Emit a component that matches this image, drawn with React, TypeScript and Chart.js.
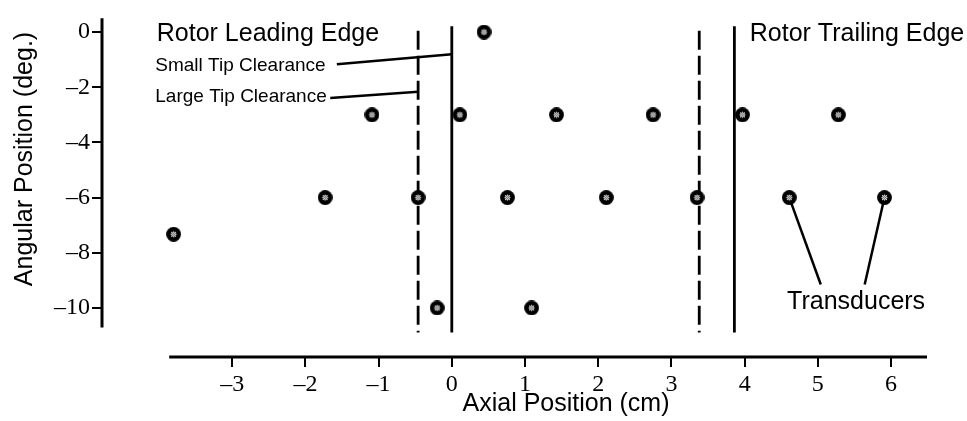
import React, { useEffect, useRef } from 'react';
import { Chart, registerables } from 'chart.js';

Chart.register(...registerables);

// ---- Data ----
const xTickValues = [-3, -2, -1, 0, 1, 2, 3, 4, 5, 6];
const yTickValues = [0, -2, -4, -6, -8, -10];

const transducerX = [0.44, -1.09, 0.11, 1.43, 2.75, 3.97, 5.28, -1.73, -0.46, 0.76, 2.11, 3.35, 4.61, 5.91, -3.8, -0.2, 1.09];
const transducerY = [0, -3, -3, -3, -3, -3, -3, -6, -6, -6, -6, -6, -6, -6, -7.33, -10, -10];

// rotor edges (solid = small tip clearance, dashed = large tip clearance)
const smallTipEdgeX = [0.0, 3.86];
const largeTipEdgeX = [-0.46, 3.38];
const smallTipEdgeTop = 0.21;
const largeTipEdgeTop = 0.05;
const edgeBottom = -10.89;

// leader lines
const smallTipLeaderX = [-1.57, 0.0];
const smallTipLeaderY = [-1.17, -0.8];
const largeTipLeaderX = [-1.66, -0.46];
const largeTipLeaderY = [-2.39, -2.16];
const transducerLeaderAX = [4.61, 5.04];
const transducerLeaderAY = [-6, -9.15];
const transducerLeaderBX = [5.91, 5.64];
const transducerLeaderBY = [-6, -9.15];

// annotation texts and their anchors (data units, left / middle)
const annotationTexts = ['Rotor Leading Edge', 'Rotor Trailing Edge', 'Small Tip Clearance', 'Large Tip Clearance', 'Transducers'];
const annotationX = [-4.03, 4.07, -4.05, -4.05, 4.58];
const annotationY = [-0.07, -0.07, -1.22, -2.35, -9.78];

const xTitle = 'Axial Position (cm)';
const yTitle = 'Angular Position (deg.)';

// axis extents
const xMin = -4.778;
const xMax = 6.491;
const yMin = -11.778;
const yMax = 0.568;
const xAxisStart = -3.86;
const yAxisTop = 0.5;
const yAxisBottom = -10.71;
const xTitleCenter = 1.56;
const yTitleCenter = -4.6;

const pts = (xs: number[], ys: number[]) => xs.map((x, i) => ({ x, y: ys[i] }));

function makeDot(): HTMLCanvasElement {
  const c = document.createElement('canvas');
  c.width = 15;
  c.height = 15;
  const g = c.getContext('2d')!;
  g.fillStyle = '#000';
  g.beginPath();
  g.arc(7.5, 7.5, 7.4, 0, Math.PI * 2);
  g.fill();
  for (let i = 0; i < 15; i++) {
    for (let j = 0; j < 15; j++) {
      const d = Math.hypot(i + 0.5 - 7.5, j + 0.5 - 7.5);
      if (d < 3.1) {
        g.fillStyle = (i + j) % 2 === 0 ? '#d8d8d8' : '#6a6a6a';
        g.fillRect(i, j, 1, 1);
      }
    }
  }
  return c;
}

const fmt = (v: number) => (v < 0 ? '\u2013' + Math.abs(v) : String(v));

export default function App() {
  const ref = useRef<HTMLCanvasElement | null>(null);

  useEffect(() => {
    if (!ref.current) return;
    const dot = makeDot();

    const decor = {
      id: 'decor',
      beforeDatasetsDraw(chart: any) {
        const { ctx, chartArea, scales } = chart;
        const x = scales.x;
        const y = scales.y;
        ctx.save();
        ctx.strokeStyle = '#000';
        ctx.lineWidth = 3;
        ctx.beginPath();
        ctx.moveTo(x.getPixelForValue(xAxisStart), chartArea.bottom);
        ctx.lineTo(chartArea.right, chartArea.bottom);
        ctx.stroke();
        ctx.beginPath();
        ctx.moveTo(chartArea.left, y.getPixelForValue(yAxisTop));
        ctx.lineTo(chartArea.left, y.getPixelForValue(yAxisBottom));
        ctx.stroke();
        ctx.restore();
      },
      afterDatasetsDraw(chart: any) {
        const { ctx, chartArea, scales } = chart;
        const x = scales.x;
        const y = scales.y;
        ctx.save();
        ctx.fillStyle = '#000';
        ctx.textBaseline = 'middle';
        ctx.textAlign = 'left';
        annotationTexts.forEach((t, i) => {
          const size = t.includes('Tip') ? 19 : 25;
          ctx.font = `${size}px "Liberation Sans", Arial, sans-serif`;
          ctx.fillText(t, x.getPixelForValue(annotationX[i]), y.getPixelForValue(annotationY[i]));
        });
        ctx.font = '25px "Liberation Sans", Arial, sans-serif';
        ctx.textAlign = 'center';
        ctx.fillText(xTitle, x.getPixelForValue(xTitleCenter), chartArea.bottom + 47);
        ctx.translate(25, y.getPixelForValue(yTitleCenter));
        ctx.rotate(-Math.PI / 2);
        ctx.fillText(yTitle, 0, 0);
        ctx.restore();
      },
    };

    const lineDs = (data: { x: number; y: number }[], dashed = false, width = 2.5) => ({
      data,
      showLine: true,
      borderColor: '#000',
      borderWidth: width,
      borderDash: dashed ? [19, 6] : [],
      pointRadius: 0,
      fill: false,
      order: 2,
      clip: false as any,
    });

    const tickFont = { family: '"Liberation Serif", "Times New Roman", serif', size: 24 };

    const chart = new Chart(ref.current, {
      type: 'scatter',
      data: {
        datasets: [
          {
            data: pts(transducerX, transducerY),
            pointStyle: dot as any,
            pointRadius: 7.5,
            backgroundColor: '#000',
            borderColor: '#000',
            order: 0,
            clip: false as any,
          },
          ...smallTipEdgeX.map((ex) => lineDs([{ x: ex, y: smallTipEdgeTop }, { x: ex, y: edgeBottom }], false, 2.8)),
          ...largeTipEdgeX.map((ex) => lineDs([{ x: ex, y: largeTipEdgeTop }, { x: ex, y: edgeBottom }], true, 2.8)),
          lineDs(pts(smallTipLeaderX, smallTipLeaderY), false, 2.5),
          lineDs(pts(largeTipLeaderX, largeTipLeaderY), false, 2.5),
          lineDs(pts(transducerLeaderAX, transducerLeaderAY), false, 2.5),
          lineDs(pts(transducerLeaderBX, transducerLeaderBY), false, 2.5),
        ] as any,
      },
      options: {
        animation: false,
        responsive: false,
        devicePixelRatio: 1,
        layout: { padding: { top: 5, right: 40, left: 0, bottom: 0 } },
        plugins: { legend: { display: false }, tooltip: { enabled: false }, title: { display: false } },
        scales: {
          x: {
            type: 'linear',
            min: xMin,
            max: xMax,
            afterFit: (s: any) => {
              s.height = 64;
            },
            afterBuildTicks: (s: any) => {
              s.ticks = xTickValues.map((v) => ({ value: v }));
            },
            border: { display: false },
            grid: { display: true, drawOnChartArea: false, drawTicks: true, tickLength: 10, color: '#000', lineWidth: 2 },
            ticks: {
              color: '#000',
              padding: 3,
              font: tickFont,
              callback: (v: any) => fmt(Number(v)),
              maxRotation: 0,
              autoSkip: false,
            },
          },
          y: {
            type: 'linear',
            min: yMin,
            max: yMax,
            afterFit: (s: any) => {
              s.width = 102;
            },
            afterBuildTicks: (s: any) => {
              s.ticks = yTickValues.map((v) => ({ value: v }));
            },
            border: { display: false },
            grid: { display: true, drawOnChartArea: false, drawTicks: true, tickLength: 10, color: '#000', lineWidth: 2 },
            ticks: {
              color: '#000',
              padding: 2,
              font: tickFont,
              callback: (v: any) => fmt(Number(v)),
              autoSkip: false,
            },
          },
        },
      },
      plugins: [decor],
    } as any);

    return () => chart.destroy();
  }, []);

  return (
    <div style={{ position: 'absolute', left: 0, top: 0, width: 967, height: 421, background: '#fff' }}>
      <canvas ref={ref} width={967} height={421} style={{ display: 'block', width: 967, height: 421 }} />
    </div>
  );
}
